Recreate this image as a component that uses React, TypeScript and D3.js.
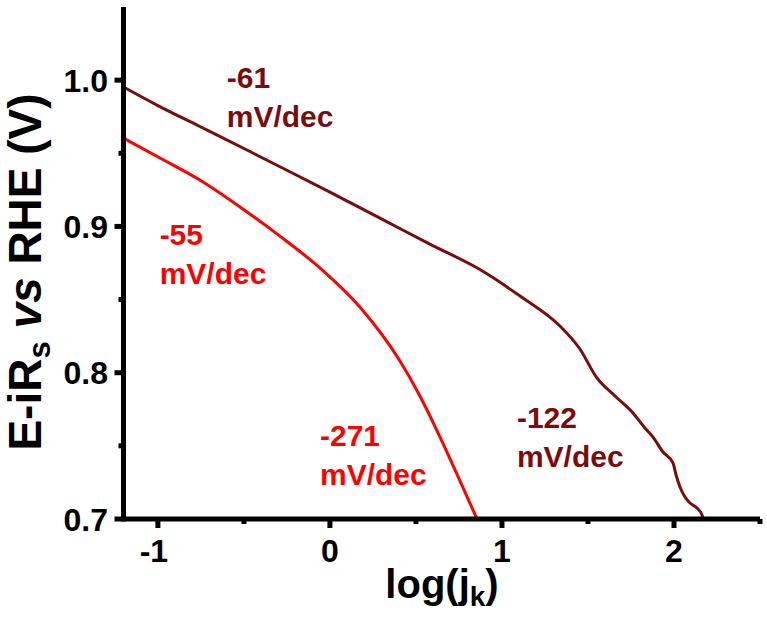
import React from 'react';
import { scaleLinear, line, curveMonotoneX } from 'd3';

// log(jk) vs E-iRs readings for the two Tafel curves
const darkLogJ = [-1.2, -1.0, -0.756, -0.465, -0.233, 0, 0.291, 0.581, 0.872, 1.105, 1.337, 1.453, 1.552, 1.657, 1.762, 1.831, 1.878, 1.936, 1.994, 2.012, 2.035, 2.064, 2.093, 2.134, 2.163, 2.169];
const darkE = [0.9953, 0.9826, 0.9683, 0.9512, 0.9374, 0.9234, 0.9057, 0.8879, 0.8705, 0.8524, 0.8319, 0.8162, 0.7964, 0.7841, 0.7725, 0.7622, 0.756, 0.7458, 0.7383, 0.7301, 0.7219, 0.715, 0.7109, 0.7075, 0.7027, 0.7];
const redLogJ = [-1.2, -0.988, -0.756, -0.523, -0.291, -0.058, 0.174, 0.407, 0.523, 0.64, 0.756, 0.855];
const redE = [0.9604, 0.9468, 0.9317, 0.9133, 0.8934, 0.8716, 0.8449, 0.808, 0.7841, 0.756, 0.726, 0.7];

const xMajor = [-1, 0, 1, 2];
const xMinor = [-0.5, 0.5, 1.5, 2.5];
const yMajor = [0.7, 0.8, 0.9, 1.0];
const yMinor = [0.75, 0.85, 0.95];

const notes = [
  { top: '-61', x: -0.6, y: 0.9946, color: '#7b0c0c' },
  { top: '-55', x: -0.99, y: 0.887, color: '#ff0000' },
  { top: '-271', x: -0.058, y: 0.75, color: '#ff0000' },
  { top: '-122', x: 1.087, y: 0.762, color: '#7b0c0c' },
];

const FONT = '"Liberation Sans", Arial, Helvetica, sans-serif';

export default function App() {
  const x = scaleLinear().domain([-1.2, 2.5]).range([123.5, 760]);
  const y = scaleLinear().domain([0.7, 1.05]).range([519, 7]);
  const gen = line<[number, number]>()
    .x((d) => x(d[0]))
    .y((d) => y(d[1]))
    .curve(curveMonotoneX);
  const dark = darkLogJ.map((v, i) => [v, darkE[i]] as [number, number]);
  const red = redLogJ.map((v, i) => [v, redE[i]] as [number, number]);

  return (
    <svg width={767} height={622} style={{ position: 'absolute', left: 0, top: 0, background: '#fff' }} fontFamily={FONT} fontWeight="bold">
      <path d={gen(dark) || ''} fill="none" stroke="#7b0c0c" strokeWidth={3} />
      <path d={gen(red) || ''} fill="none" stroke="#ff0000" strokeWidth={3} />

      {/* axes */}
      <line x1={x(-1.2)} x2={x(2.5)} y1={y(0.7)} y2={y(0.7)} stroke="#000" strokeWidth={5} />
      <line x1={x(-1.2)} x2={x(-1.2)} y1={y(0.7) + 2.5} y2={y(1.05)} stroke="#000" strokeWidth={5} />
      {xMajor.map((t) => (
        <g key={'xm' + t}>
          <line x1={x(t)} x2={x(t)} y1={y(0.7)} y2={y(0.7) + 9} stroke="#000" strokeWidth={5} />
          <text x={x(t) - (t < 0 ? 4 : 0)} y={562} textAnchor="middle" fontSize={32}>{t}</text>
        </g>
      ))}
      {xMinor.map((t) => (
        <line key={'xn' + t} x1={x(t)} x2={x(t)} y1={y(0.7)} y2={y(0.7) + 5} stroke="#000" strokeWidth={5} />
      ))}
      {yMajor.map((t) => (
        <g key={'ym' + t}>
          <line x1={x(-1.2)} x2={x(-1.2) - 9} y1={y(t)} y2={y(t)} stroke="#000" strokeWidth={5} />
          <text x={108} y={y(t) + 11.5} textAnchor="end" fontSize={32}>{t.toFixed(1)}</text>
        </g>
      ))}
      {yMinor.map((t) => (
        <line key={'yn' + t} x1={x(-1.2)} x2={x(-1.2) - 5} y1={y(t)} y2={y(t)} stroke="#000" strokeWidth={5} />
      ))}

      {/* axis titles */}
      <text x={442} y={598} textAnchor="middle" fontSize={40}>
        log(j<tspan fontSize={28} dy={8}>k</tspan><tspan dy={-8}>)</tspan>
      </text>
      <text transform="translate(41,272) rotate(-90)" textAnchor="middle" fontSize={46}>
        E-iR<tspan fontSize={31} dy={9}>s</tspan><tspan dy={-9}> </tspan><tspan fontStyle="italic">vs</tspan> RHE (V)
      </text>

      {notes.map((n) => (
        <text key={n.top} x={x(n.x)} y={y(n.y)} fontSize={30} fill={n.color}>
          <tspan x={x(n.x)}>{n.top}</tspan>
          <tspan x={x(n.x)} dy={39}>mV/dec</tspan>
        </text>
      ))}
    </svg>
  );
}
